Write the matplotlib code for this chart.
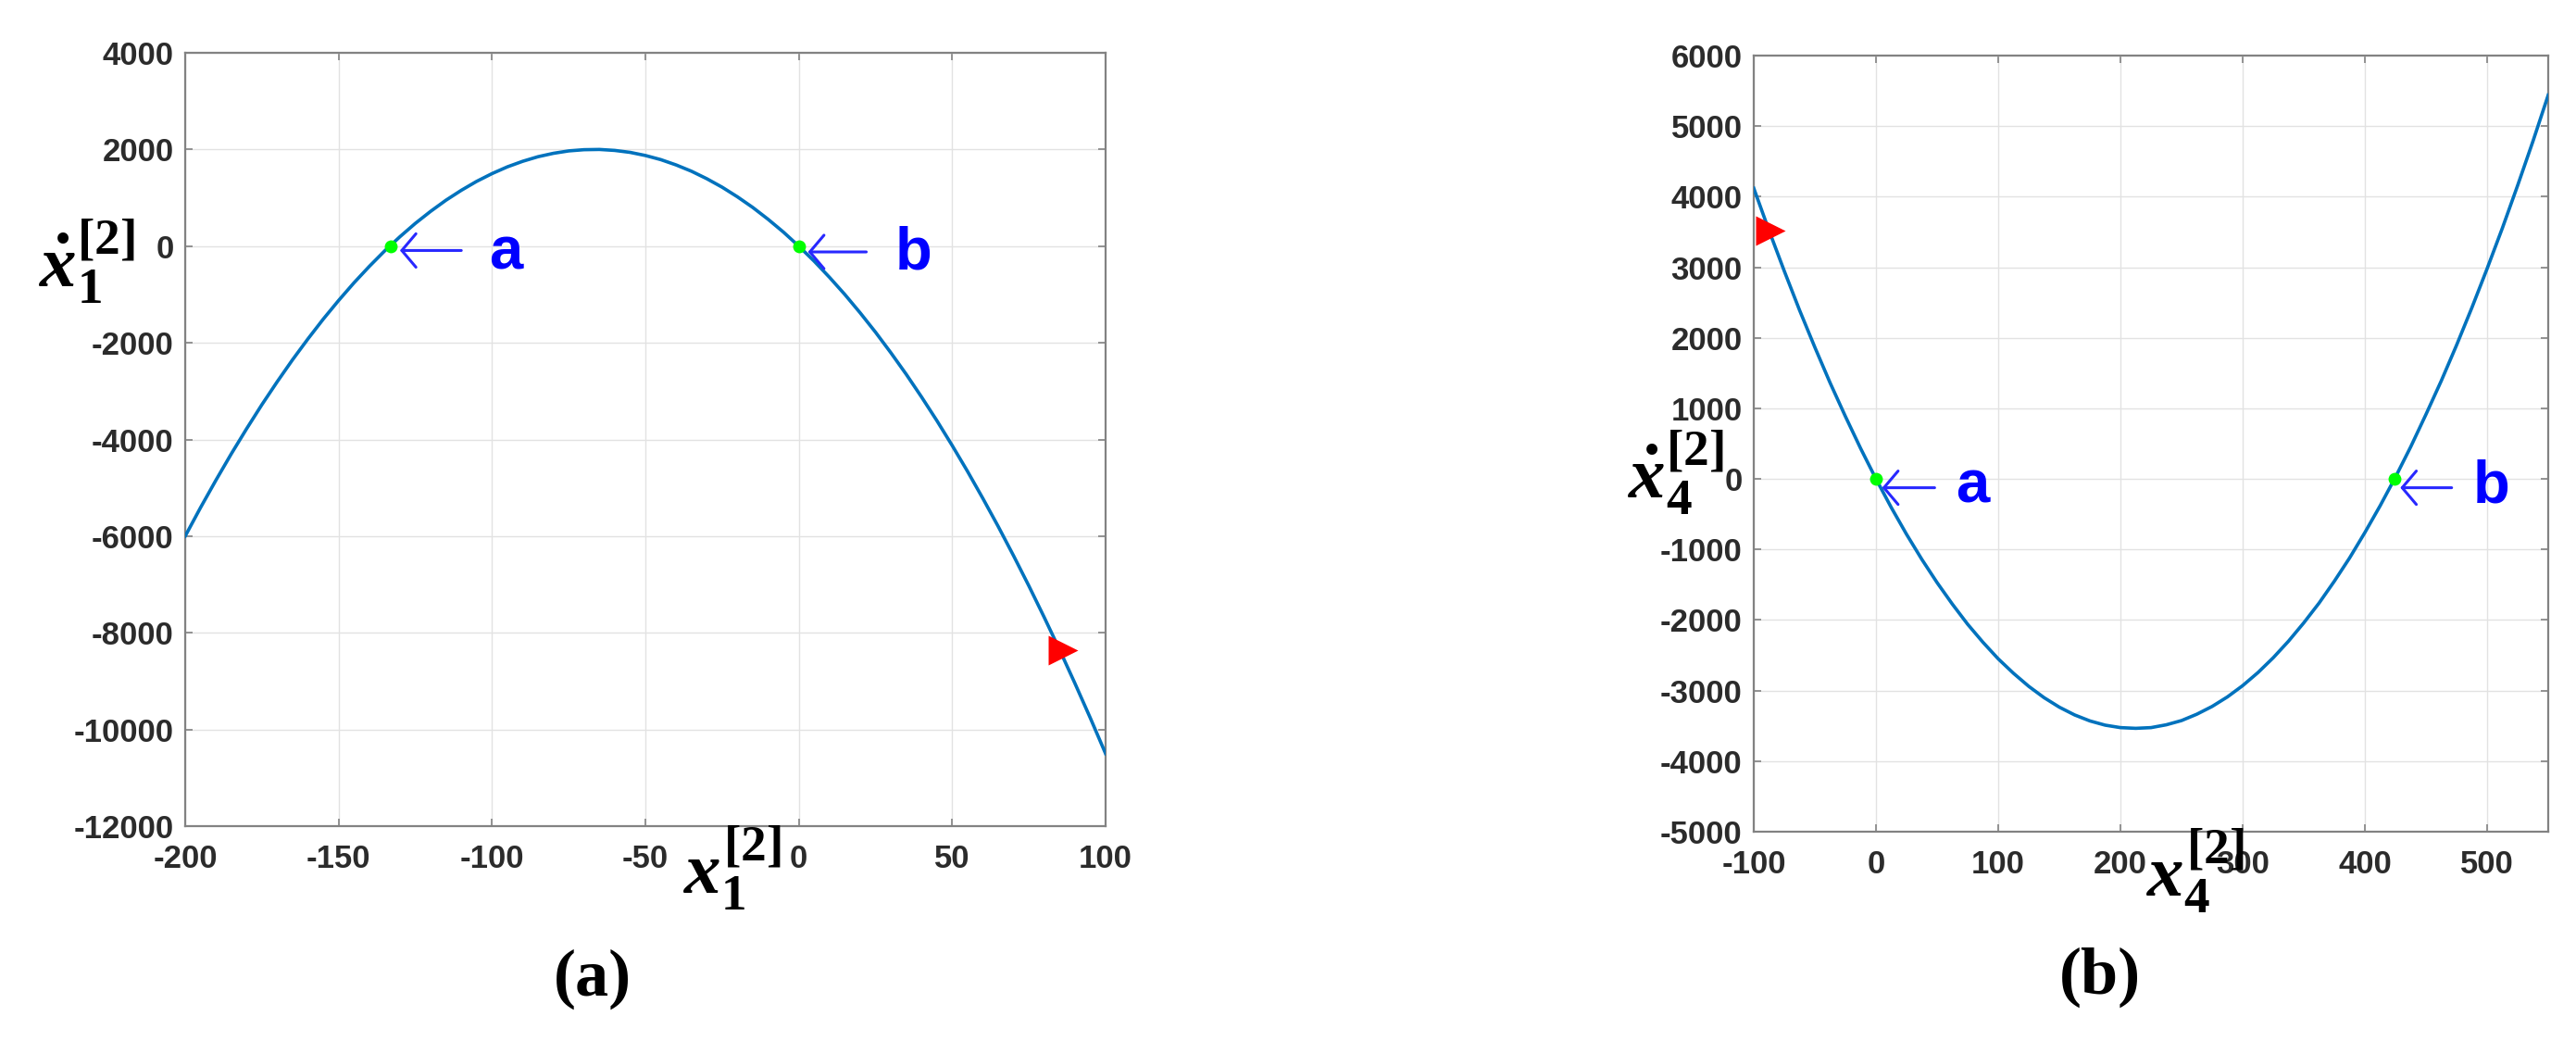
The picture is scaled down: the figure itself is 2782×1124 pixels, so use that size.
import matplotlib
matplotlib.use("Agg")
import matplotlib.pyplot as plt

# ---------------- data ----------------
x1_vals = [-200, -195, -190, -185, -180, -175, -170, -165, -160, -155, -150,
           -145, -140, -135, -130, -125, -120, -115, -110, -105, -100,
           -95, -90, -85, -80, -75, -70, -65, -60, -55, -50,
           -45, -40, -35, -30, -25, -20, -15, -10, -5, 0,
           5, 10, 15, 20, 25, 30, 35, 40, 45, 50,
           55, 60, 65, 70, 75, 80, 85, 90, 95, 100]
y1_vals = [-6000, -5410, -4845, -4300, -3780, -3280, -2805, -2350, -1920, -1510, -1125,
           -760, -420, -100, 195, 470, 720, 950, 1155, 1340, 1500,
           1640, 1755, 1850, 1920, 1970, 1995, 2000, 1980, 1940, 1875,
           1790, 1680, 1550, 1395, 1220, 1020, 800, 555, 290, 0,
           -310, -645, -1000, -1380, -1780, -2205, -2650, -3120, -3610, -4125,
           -4660, -5220, -5800, -6405, -7030, -7680, -8350, -9045, -9760, -10500]

x4_vals = [-100, -87.5, -75, -62.5, -50, -37.5, -25, -12.5, 0, 12.5, 25, 37.5, 50,
           62.5, 75, 87.5, 100, 112.5, 125, 137.5, 150, 162.5, 175, 187.5, 200,
           212.5, 225, 237.5, 250, 262.5, 275, 287.5, 300, 312.5, 325, 337.5, 350,
           362.5, 375, 387.5, 400, 412.5, 425, 437.5, 450, 462.5, 475, 487.5, 500,
           512.5, 525, 537.5, 550]
y4_vals = [4120, 3520, 2945, 2390, 1865, 1360, 885, 430, 0, -405, -785, -1140, -1470,
           -1775, -2060, -2315, -2550, -2755, -2940, -3100, -3235, -3345, -3430, -3490, -3525,
           -3535, -3525, -3485, -3425, -3335, -3225, -3090, -2930, -2745, -2535, -2300, -2040,
           -1760, -1450, -1120, -760, -380, 25, 455, 915, 1390, 1895, 2425, 2980,
           3555, 4160, 4785, 5440]

eq1_x = [-133, 0]          # green equilibrium points, panel (a)
eq1_y = [0, 0]
eq4_x = [0, 424]           # green equilibrium points, panel (b)
eq4_y = [0, 0]
start1 = (86, -8360)       # red start marker, panel (a)
start4 = (-86, 3520)       # red start marker, panel (b)
point_labels = ["a", "b"]

x1_ticks = [-200, -150, -100, -50, 0, 50, 100]
y1_ticks = [4000, 2000, 0, -2000, -4000, -6000, -8000, -10000, -12000]
x4_ticks = [-100, 0, 100, 200, 300, 400, 500]
y4_ticks = [6000, 5000, 4000, 3000, 2000, 1000, 0, -1000, -2000, -3000, -4000, -5000]

# ---------------- style ----------------
W, H = 2782, 1124
plt.rcParams['font.family'] = ['Liberation Sans', 'DejaVu Sans']
plt.rcParams['font.weight'] = 'bold'
plt.rcParams['axes.unicode_minus'] = False
plt.rcParams['mathtext.fontset'] = 'custom'
plt.rcParams['mathtext.it'] = 'Liberation Serif:italic:bold'
plt.rcParams['mathtext.rm'] = 'Liberation Serif:bold'
plt.rcParams['mathtext.bf'] = 'Liberation Serif:bold'

CURVE = '#0072BD'
SPINE = '#828282'
TICKLAB = '#2b2b2b'
GRID = '#e2e2e2'
ARROW = '#2828ff'
TXTBLUE = '#0000ff'

fig = plt.figure(figsize=(W / 100, H / 100), dpi=100)


def fx(px):
    return px / W


def fy(py):
    return 1 - py / H


def style_axes(ax, xt, yt, xlim, ylim):
    ax.set_xlim(*xlim)
    ax.set_ylim(*ylim)
    ax.set_xticks(xt)
    ax.set_yticks(yt)
    ax.set_xticklabels([str(v) for v in xt])
    ax.set_yticklabels([str(v) for v in yt])
    ax.grid(True, color=GRID, lw=1.0)
    ax.set_axisbelow(True)
    for s in ax.spines.values():
        s.set_color(SPINE)
        s.set_linewidth(1.6)
    ax.tick_params(direction='in', length=6, width=1.2, color=SPINE,
                   top=True, right=True, labelsize=25, labelcolor=TICKLAB)
    ax.tick_params(axis='x', pad=14)
    ax.tick_params(axis='y', pad=9)


def annotate_points(ax, tips, tails, txt_x, txt_y):
    for lab, tip, tail, tx in zip(point_labels, tips, tails, txt_x):
        ax.annotate('', xy=tip, xytext=tail,
                    arrowprops=dict(arrowstyle='->,head_length=0.55,head_width=0.65',
                                    color=ARROW, lw=2.2, shrinkA=0, shrinkB=0,
                                    mutation_scale=20))
        ax.text(tx, txt_y, lab, color=TXTBLUE, fontsize=47, fontweight='bold',
                ha='center', va='baseline', family='Liberation Sans')


# ---------------- panel (a) ----------------
ax1 = fig.add_axes([fx(200), fy(892), fx(994), 835 / H])
style_axes(ax1, x1_ticks, y1_ticks, (-200, 100), (-12000, 4000))
ax1.plot(x1_vals, y1_vals, color=CURVE, lw=2.6, zorder=3)
ax1.plot(eq1_x, eq1_y, 'o', color='#00ff00', ms=10, mec='none', zorder=4)
ax1.plot([start1[0]], [start1[1]], '>', color='red', ms=23, mec='none', zorder=5)
annotate_points(ax1, [(-130, -90), (3, -120)], [(-110, -90), (22, -120)],
                [-95.5, 37.5], -465)

# ---------------- panel (b) ----------------
ax2 = fig.add_axes([fx(1894), fy(898), fx(858), 838 / H])
style_axes(ax2, x4_ticks, y4_ticks, (-100, 550), (-5000, 6000))
ax2.plot(x4_vals, y4_vals, color=CURVE, lw=2.6, zorder=3)
ax2.plot(eq4_x, eq4_y, 'o', color='#00ff00', ms=10, mec='none', zorder=4)
ax2.plot([start4[0]], [start4[1]], '>', color='red', ms=23, mec='none', zorder=5)
annotate_points(ax2, [(5, -125), (429, -125)], [(48, -125), (471, -125)],
                [79.2, 503.7], -337)

# ---------------- axis labels ----------------
LABSIZE = 57
fig.text(fx(42), fy(310), r'$\dot{x}_{1}^{[2]}$', fontsize=LABSIZE, ha='left', va='baseline')
fig.text(fx(738), fy(965), r'$x_{1}^{[2]}$', fontsize=LABSIZE, ha='left', va='baseline')
fig.text(fx(1758), fy(538), r'$\dot{x}_{4}^{[2]}$', fontsize=LABSIZE, ha='left', va='baseline')
fig.text(fx(2318), fy(968), r'$x_{4}^{[2]}$', fontsize=LABSIZE, ha='left', va='baseline')

# ---------------- captions ----------------
fig.text(fx(640), fy(1057), '(a)', fontsize=52, family='Liberation Serif',
         fontweight='bold', ha='center', va='center')
fig.text(fx(2268), fy(1055), '(b)', fontsize=52, family='Liberation Serif',
         fontweight='bold', ha='center', va='center')

fig.savefig('out.png', dpi=100, facecolor='white')
